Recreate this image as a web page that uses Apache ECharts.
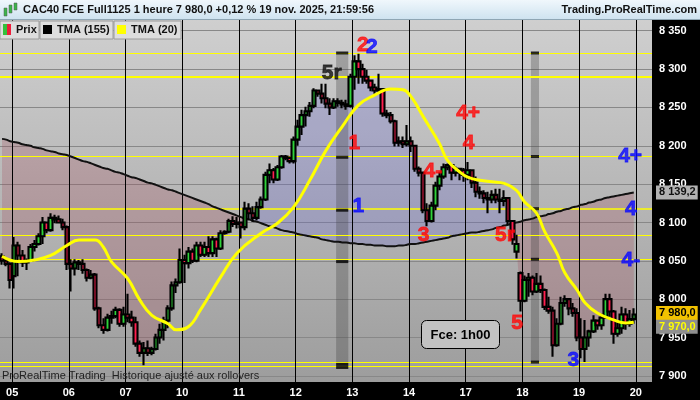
<!DOCTYPE html>
<html><head><meta charset="utf-8">
<script src="https://cdn.jsdelivr.net/npm/echarts@6/dist/echarts.min.js"></script>
<style>html,body{margin:0;padding:0;background:#000}#c{width:700px;height:400px}</style>
</head><body><div id="c"></div>
<script>
// ---------- data ----------
const dayLabels = ['05','06','07','10','11','12','13','14','17','18','19','20'];
const candlesPerDay = 14, leadCandles = 3, totalSlots = 161;

const open = [8056,8050,8046,8030,8070,8057,8048,8050,8068,8072,
8082,8100,8090,8106,8104,8100,8094,8046,8040,8048,
8046,8038,8028,8032,7988,7966,7960,7976,7978,7986,
7968,7980,7976,7970,7942,7930,7936,7930,7935,7950,
7960,7972,7988,8018,8022,8051,8047,8062,8050,8070,
8058,8068,8060,8078,8066,8086,8088,8102,8098,8100,
8094,8118,8112,8106,8120,8130,8162,8168,8156,8172,
8186,8184,8180,8208,8225,8240,8245,8252,8272,8268,
8262,8255,8250,8258,8256,8254,8252,8290,8310,8300,
8290,8285,8276,8272,8274,8242,8240,8232,8204,8206,
8202,8206,8200,8170,8165,8116,8102,8122,8148,8160,
8172,8175,8165,8170,8168,8162,8168,8152,8140,8138,
8132,8130,8136,8130,8128,8132,8102,8062,8034,7998,
8025,8028,8010,8020,8012,7990,7985,7940,7968,7995,
8000,7988,7982,7950,7935,7950,7958,7972,7966,7976,
8000,7984,7955,7962,7980,7968,7974];
const close = [8050,8046,8025,8070,8057,8048,8050,8068,8072,8082,
8100,8090,8106,8104,8100,8094,8046,8040,8048,8046,
8038,8028,8032,7988,7966,7960,7976,7978,7986,7968,
7980,7976,7970,7942,7930,7936,7930,7935,7950,7960,
7972,7988,8018,8022,8051,8047,8062,8050,8070,8058,
8068,8060,8078,8066,8086,8088,8102,8098,8100,8094,
8118,8112,8106,8120,8130,8162,8168,8156,8172,8186,
8184,8180,8208,8225,8240,8245,8252,8272,8268,8262,
8255,8250,8258,8256,8254,8252,8290,8310,8300,8290,
8285,8276,8272,8274,8242,8240,8232,8204,8206,8202,
8206,8200,8170,8165,8116,8102,8122,8148,8160,8172,
8175,8165,8170,8168,8162,8168,8152,8140,8138,8132,
8130,8136,8130,8128,8132,8102,8078,8072,7998,8025,
8028,8010,8020,8012,7990,7985,7940,7968,7995,8000,
7988,7982,7950,7935,7950,7958,7972,7966,7976,8000,
7984,7955,7962,7980,7968,7974,7980];
const high = [8060,8055,8048,8081,8075,8064,8053,8072,8077,8086,
8107,8101,8112,8110,8109,8105,8096,8052,8052,8051,
8052,8040,8038,8034,7990,7975,7981,7985,7990,7988,
7990,8007,7985,7977,7946,7944,7946,7938,7955,7968,
7977,7992,8023,8027,8066,8058,8068,8066,8075,8075,
8075,8082,8082,8080,8090,8090,8105,8108,8107,8101,
8127,8125,8121,8127,8134,8166,8177,8171,8175,8188,
8188,8186,8212,8234,8247,8251,8257,8275,8273,8281,
8281,8262,8262,8262,8260,8260,8294,8318,8320,8307,
8299,8286,8281,8294,8275,8247,8244,8234,8212,8212,
8227,8212,8201,8173,8166,8125,8127,8153,8166,8177,
8177,8176,8173,8171,8171,8179,8169,8160,8147,8142,
8140,8142,8144,8144,8142,8133,8103,8084,8036,8031,
8034,8031,8034,8031,8014,8003,7990,7975,8003,8005,
8001,7995,7988,7975,7973,7960,7979,7973,7981,8007,
8007,7986,7970,7990,7988,7986,7988];
const low = [8045,8043,8014,8014,8030,8042,8038,8049,8062,8070,
8072,8086,8088,8099,8099,8090,8038,8010,8031,8038,
8033,8023,8026,7985,7962,7955,7958,7968,7975,7964,
7964,7970,7964,7938,7925,7914,7926,7927,7933,7942,
7946,7962,7985,8008,8020,8021,8040,8047,8048,8055,
8055,8055,8055,8055,8064,8084,8086,8094,8092,8079,
8090,8103,8101,8103,8118,8128,8151,8151,8154,8170,
8181,8177,8177,8200,8214,8225,8238,8249,8264,8255,
8249,8240,8248,8251,8249,8247,8250,8273,8281,8281,
8281,8271,8268,8270,8238,8236,8229,8199,8199,8197,
8199,8192,8166,8160,8112,8095,8100,8116,8142,8157,
8168,8155,8160,8155,8153,8155,8145,8133,8131,8125,
8112,8125,8125,8112,8121,8097,8071,8053,7984,7996,
8003,8005,8008,8008,7986,7981,7925,7938,7966,7990,
7979,7977,7945,7923,7918,7938,7956,7960,7960,7975,
7977,7942,7951,7955,7960,7964,7968];

const tma155 = [8209,8208,8206,8205,8204,8202,8201,8200,8198,8197,8196,8194,8193,8192,8190,8189,8188,
8186,8184,8182,8180,8179,8177,8175,8173,
8171,8170,8168,8166,8165,8163,8161,8159,8158,8156,
8154,8152,8151,8149,8147,8145,8143,8142,8140,8138,
8136,8134,8132,8130,8128,8126,8124,8121,8119,8117,8115,8113,8111,8109,8107,
8105,8104,8102,8101,8099,
8097,8095,8094,8092,8090,
8089,8088,8087,8085,8084,8083,8082,
8081,8080,8078,8077,8076,8075,
8075,8074,8074,8073,8073,8072,
8072,8071,8071,8070,8070,8070,8069,8069,
8069,8070,8070,8071,8072,8072,8073,8074,
8075,8076,8077,8078,8079,8080,8082,8083,
8084,8085,8086,8087,8087,8088,8089,8090,8091,
8093,8094,8096,8097,8099,8100,
8101,8103,8104,8105,8107,8108,8109,8111,8112,
8114,8115,8117,8118,8120,8121,8123,8124,
8126,8127,8129,8130,8132,8133,
8134,8135,8136,8137,8138,8139];

const tma20Idx = [0,4,8,12,16,19,23,25,27,31,34,37,41,43,46,49,54,58,64,68,72,76,80,84,88,92,96,99,101,104,108,110,113,115,118,121,124,127,129,132,134,137,139,142,144,147,151,154,156];
const tma20Val = [8056,8049,8051,8057,8070,8077,8077,8068,8049,8027,7999,7979,7968,7960,7964,7986,8029,8060,8086,8099,8120,8155,8194,8225,8253,8266,8274,8273,8264,8238,8203,8181,8166,8159,8155,8153,8151,8142,8127,8112,8088,8060,8034,8012,7995,7982,7973,7969,7970];

const levelLines = [8320.5, 8290, 8187, 8117.5, 8083, 8052, 7918, 7913];
const levelWidths = [1, 2, 1, 1.5, 1, 1, 1, 1];
const priceTicks = [7900,7950,8000,8050,8100,8150,8200,8250,8300,8350];

const annoText  = ['2','2','5r','1','1','4+','4','4-','3','5r','5','3','4+','4','4-'];
const annoIdx   = [89.1,91.3,81.4,87.0,88.0,115.1,115.2,106.4,104.1,124.2,127.2,141.1,155.1,155.3,155.3];
const annoVal   = [8331,8328,8294,8204,8121,8243,8204,8167,8083,8084,7969,7921,8187,8117,8051];
const annoColor = ['#ff0a0a','#0a0aff','#111111','#ff0a0a','#0a0aff','#ff0a0a','#ff0a0a','#ff0a0a','#ff0a0a','#ff0a0a','#ff0a0a','#0a0aff','#0a0aff','#0a0aff','#0a0aff'];

const bandFrom = [82.5, 130.6];
const bandTo   = [85.5, 132.6];
const bandTop  = [8322, 8322];
const bandBot  = [7909, 7916];
const bandMarks = [[8321,8185,8116,8049,7915,7911],[8321,8186,8118,8052,7918]];

const tagTma155 = 8139.2, tagClose = 7980.0, tagTma20 = 7970.0;

// ---------- helpers ----------
const FF = 'Liberation Sans, Arial, sans-serif';
const grp = s => s.length > 3 ? s.slice(0, s.length - 3) + ' ' + s.slice(-3) : s;
const fmtInt = v => grp(String(Math.round(v)));
const fmtDec = v => { const p = v.toFixed(1).split('.'); return grp(p[0]) + ',' + p[1]; };

const cats = Array.from({length: totalSlots}, (_, i) => String(i));
const dayBounds = dayLabels.map((d, k) => leadCandles - 0.5 + k * candlesPerDay);
const base = close.map((c, i) => Math.min(c, tma155[i]));
const upFill = close.map((c, i) => Math.max(c - tma155[i], 0));
const dnFill = close.map((c, i) => Math.max(tma155[i] - c, 0));

const chart = echarts.init(document.getElementById('c'), null, {renderer: 'canvas'});
const emptyLine = (extra) => Object.assign({type: 'line', xAxisIndex: 1, data: [], symbol: 'none', silent: true}, extra);

const option = {
  backgroundColor: '#000',
  animation: false,
  grid: {left: 0, right: 48, top: 20, bottom: 18, show: true, borderWidth: 0,
    backgroundColor: {type: 'linear', x: 0, y: 0, x2: 0, y2: 1,
      colorStops: [{offset: 0, color: '#cfcfcf'}, {offset: 1, color: '#9d9d9d'}]}},
  xAxis: [
    {type: 'category', data: cats, boundaryGap: true, axisLine: {show: false}, axisTick: {show: false}, axisLabel: {show: false}, splitLine: {show: false}},
    {type: 'value', min: -0.5, max: totalSlots - 0.5, position: 'bottom', axisLine: {show: false}, axisTick: {show: false}, splitLine: {show: false},
      axisLabel: {customValues: dayBounds, formatter: v => dayLabels[Math.round((v - dayBounds[0]) / candlesPerDay)],
        color: '#fff', fontWeight: 'bold', fontSize: 11, fontFamily: FF, margin: 5}}
  ],
  yAxis: [{type: 'value', position: 'right', min: 7892, max: 8364, scale: true,
    axisLine: {show: false}, splitLine: {show: false},
    axisTick: {show: true, customValues: priceTicks, length: 4, lineStyle: {color: '#fff'}},
    axisLabel: {customValues: priceTicks, formatter: fmtInt, color: '#fff', fontWeight: 'bold', fontSize: 11, fontFamily: FF, margin: 7}}],
  series: [
    // grid lines
    emptyLine({markLine: {silent: true, symbol: 'none', z: 1, label: {show: false},
      lineStyle: {color: '#888888', width: 1, type: 'solid'}, data: priceTicks.map(v => ({yAxis: v}))}}),
    // fill between price and TMA155
    {type: 'line', xAxisIndex: 0, stack: 'f', data: base, symbol: 'none', lineStyle: {width: 0}, silent: true, z: 2},
    {type: 'line', xAxisIndex: 0, stack: 'f', data: upFill, symbol: 'none', lineStyle: {width: 0}, silent: true, z: 2,
      areaStyle: {color: 'rgba(95,95,210,0.36)'}},
    {type: 'line', xAxisIndex: 0, stack: 'f', data: dnFill, symbol: 'none', lineStyle: {width: 0}, silent: true, z: 2,
      areaStyle: {color: 'rgba(165,65,85,0.34)'}},
    // bands
    emptyLine({markArea: {silent: true, z: 3, itemStyle: {color: 'rgba(60,60,60,0.3)'},
      data: bandFrom.map((b, k) => [{xAxis: b, yAxis: bandTop[k]}, {xAxis: bandTo[k], yAxis: bandBot[k]}])}}),
    // yellow levels
    emptyLine({markLine: {silent: true, symbol: 'none', z: 3, label: {show: false},
      data: levelLines.map((v, k) => ({yAxis: v, lineStyle: {color: '#ffff00', width: levelWidths[k], type: 'solid'}}))}}),
    // day separators
    emptyLine({markLine: {silent: true, symbol: 'none', z: 3, label: {show: false},
      lineStyle: {color: '#000', width: 1, type: 'solid'}, data: dayBounds.map(v => ({xAxis: v}))}}),
    // TMA 155
    {type: 'line', name: 'TMA (155)', xAxisIndex: 0, data: tma155, smooth: true, symbol: 'none', z: 4,
      lineStyle: {color: '#111', width: 2},
      markLine: {silent: true, symbol: 'none', z: 9, lineStyle: {width: 0}, data: [{yAxis: tagTma155}],
        label: {show: true, position: 'end', distance: 4, formatter: () => fmtDec(tagTma155), backgroundColor: '#b2b2b2',
          color: '#111', padding: [2, 2, 1, 3], fontSize: 11, fontWeight: 'bold', fontFamily: FF}}},
    // candles
    {type: 'candlestick', name: 'Prix', xAxisIndex: 0, z: 5, barWidth: 4,
      data: open.map((o, i) => [o, close[i], low[i], high[i]]),
      itemStyle: {color: '#2fd23a', color0: '#ff1f4f', borderColor: '#000', borderColor0: '#000', borderWidth: 2.1},
      markLine: {silent: true, symbol: 'none', z: 9, lineStyle: {width: 0}, data: [{yAxis: tagClose}],
        label: {show: true, position: 'end', distance: 4, offset: [0, -1.5], formatter: () => fmtDec(tagClose), backgroundColor: '#f2c200',
          color: '#000', padding: [2, 2, 1, 3], fontSize: 11, fontWeight: 'bold', fontFamily: FF}}},
    // band dashes
    {type: 'scatter', xAxisIndex: 1, z: 6, silent: true, symbol: 'rect',
      data: bandMarks.flatMap((arr, k) => arr.map(v => ({value: [(bandFrom[k] + bandTo[k]) / 2, v],
        symbolSize: [(bandTo[k] - bandFrom[k]) * 4.05, 3]}))),
      itemStyle: {color: '#000'}},
    // TMA 20
    {type: 'line', name: 'TMA (20)', xAxisIndex: 1, data: tma20Idx.map((x, i) => [x, tma20Val[i]]), smooth: 0.45, symbol: 'none', z: 7,
      lineStyle: {color: '#ffff00', width: 3},
      markLine: {silent: true, symbol: 'none', z: 9, lineStyle: {width: 0}, data: [{yAxis: tagTma20}],
        label: {show: true, position: 'end', distance: 4, offset: [0, 4.5], formatter: () => fmtDec(tagTma20), backgroundColor: '#8f8f8f',
          color: '#ffff00', padding: [2, 2, 1, 3], fontSize: 11, fontWeight: 'bold', fontFamily: FF}}},
    // wave labels
    {type: 'scatter', xAxisIndex: 1, z: 8, silent: true, symbolSize: 1, itemStyle: {color: 'rgba(0,0,0,0)'},
      data: annoText.map((t, i) => ({name: t, value: [annoIdx[i], annoVal[i]],
        label: {color: annoColor[i], textBorderColor: annoColor[i], textBorderWidth: 0.8}})),
      label: {show: true, position: 'inside', formatter: p => p.name, fontSize: 21, fontWeight: 'bold', fontFamily: FF}}
  ],
  graphic: [
    // header
    {type: 'rect', z: 100, shape: {x: 0, y: 0, width: 700, height: 19},
      style: {fill: {type: 'linear', x: 0, y: 0, x2: 0, y2: 1, colorStops: [{offset: 0, color: '#f0f7fc'}, {offset: 1, color: '#cfe3f0'}]}}},
    {type: 'rect', z: 100, shape: {x: 0, y: 19, width: 700, height: 1}, style: {fill: '#8fa6b4'}},
    {type: 'rect', z: 101, shape: {x: 4, y: 8, width: 3, height: 8}, style: {fill: '#3bb54a', stroke: '#555', lineWidth: 0.5}},
    {type: 'rect', z: 101, shape: {x: 9, y: 5, width: 3, height: 8}, style: {fill: '#3bb54a', stroke: '#555', lineWidth: 0.5}},
    {type: 'rect', z: 101, shape: {x: 14, y: 3, width: 3, height: 7}, style: {fill: '#3bb54a', stroke: '#555', lineWidth: 0.5}},
    {type: 'text', z: 101, x: 23, y: 10, style: {text: 'CAC40 FCE Full1125 1 heure 7 980,0 +0,12 % 19 nov. 2025, 21:59:56',
      fill: '#111', font: 'bold 11px ' + FF, verticalAlign: 'middle'}},
    {type: 'text', z: 101, x: 697, y: 10, style: {text: 'Trading.ProRealTime.com', fill: '#111', font: 'bold 11px ' + FF,
      align: 'right', verticalAlign: 'middle'}},
    // legend cells
    {type: 'rect', z: 100, shape: {x: 0, y: 21, width: 39, height: 18}, style: {fill: '#dddddd', stroke: '#9a9a9a', lineWidth: 1}},
    {type: 'rect', z: 100, shape: {x: 40, y: 21, width: 73, height: 18}, style: {fill: '#dddddd', stroke: '#9a9a9a', lineWidth: 1}},
    {type: 'rect', z: 100, shape: {x: 114, y: 21, width: 67, height: 18}, style: {fill: '#dddddd', stroke: '#9a9a9a', lineWidth: 1}},
    {type: 'rect', z: 101, shape: {x: 3, y: 24, width: 4, height: 11}, style: {fill: '#33c13c'}},
    {type: 'rect', z: 101, shape: {x: 7, y: 24, width: 4, height: 11}, style: {fill: '#ee1d3a'}},
    {type: 'text', z: 101, x: 16, y: 30, style: {text: 'Prix', fill: '#111', font: 'bold 11px ' + FF, verticalAlign: 'middle'}},
    {type: 'rect', z: 101, shape: {x: 43, y: 25, width: 9, height: 9}, style: {fill: '#000'}},
    {type: 'text', z: 101, x: 57, y: 30, style: {text: 'TMA (155)', fill: '#111', font: 'bold 11px ' + FF, verticalAlign: 'middle'}},
    {type: 'rect', z: 101, shape: {x: 117, y: 25, width: 9, height: 9}, style: {fill: '#ffff00'}},
    {type: 'text', z: 101, x: 131, y: 30, style: {text: 'TMA (20)', fill: '#111', font: 'bold 11px ' + FF, verticalAlign: 'middle'}},
    // timeframe box
    {type: 'rect', z: 100, shape: {x: 421.5, y: 320.5, width: 78, height: 28, r: 5}, style: {fill: '#c2c2c2', stroke: '#000', lineWidth: 1}},
    {type: 'text', z: 101, x: 460.5, y: 335, style: {text: 'Fce: 1h00', fill: '#000', font: 'bold 13px ' + FF, align: 'center', verticalAlign: 'middle'}},
    // footer note
    {type: 'text', z: 101, x: 2, y: 376, style: {text: 'ProRealTime Trading  Historique ajusté aux rollovers', fill: '#222',
      font: '11px ' + FF, verticalAlign: 'middle'}}
  ]
};
chart.setOption(option);
</script>
</body></html>
